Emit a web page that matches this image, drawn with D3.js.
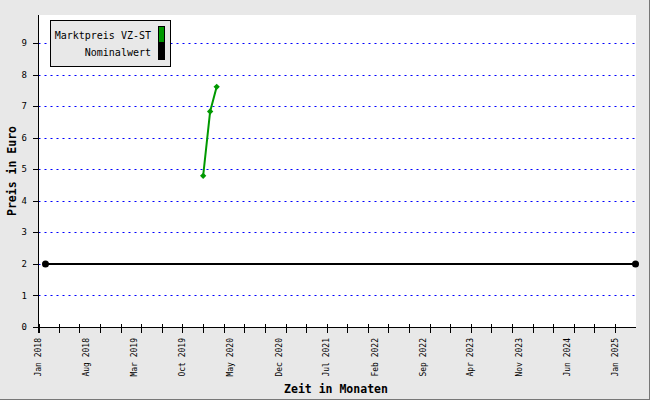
<!DOCTYPE html>
<html><head><meta charset="utf-8">
<script src="https://cdn.jsdelivr.net/npm/d3@7"></script>
<style>body{margin:0;background:#fff}svg{display:block}</style>
</head><body><svg id="c" width="650" height="400"></svg>
<script>
const marketDates = ["2020-01-01", "2020-02-01", "2020-03-01"];
const marketValues = [4.79, 6.83, 7.61];
const nominalDates = ["2018-02-01", "2025-04-01"];
const nominalValues = [2, 2];
const yTicks = [0, 1, 2, 3, 4, 5, 6, 7, 8, 9];
const xLabelDates = ["2018-01-01","2018-08-01","2019-03-01","2019-10-01","2020-05-01","2020-12-01","2021-07-01","2022-02-01","2022-09-01","2023-04-01","2023-11-01","2024-06-01","2025-01-01"];
const seriesNames = ["Marktpreis VZ-ST", "Nominalwert"];
const seriesColors = ["#009900", "#000000"];

(function () {
const parse = d3.utcParse("%Y-%m-%d");
const fmt = d3.utcFormat("%b %Y");
const svg = d3.select("#c");
const font = "'DejaVu Sans Mono', 'Liberation Mono', monospace";

svg.append("rect").attr("width", 650).attr("height", 400).attr("fill", "#e8e8e8");
svg.append("line").attr("x1", 649.5).attr("x2", 649.5).attr("y1", 0).attr("y2", 400).attr("stroke", "#777");
svg.append("line").attr("x1", 0).attr("x2", 650).attr("y1", 399.5).attr("y2", 399.5).attr("stroke", "#777");

const pL = 38.5, pR = 636, pT = 15, pB = 327;
svg.append("rect").attr("x", pL).attr("y", pT).attr("width", pR - pL).attr("height", pB - pT).attr("fill", "#fff");

const x = d3.scaleUtc().domain([parse("2018-01-01"), parse("2025-04-01")]).range([pL, pR - 0.5]);
const y = d3.scaleLinear().domain([0, 9]).range([pB, 43]);

// grid
svg.append("g").selectAll("line").data(yTicks.filter(d => d > 0)).join("line")
  .attr("x1", pL).attr("x2", pR)
  .attr("y1", d => Math.round(y(d)) + 0.5).attr("y2", d => Math.round(y(d)) + 0.5)
  .attr("stroke", "#0000ff").attr("stroke-width", 1).attr("stroke-dasharray", "2,4");

// y axis
const gy = svg.append("g");
gy.append("line").attr("x1", pL).attr("x2", pL).attr("y1", pT).attr("y2", pB + 6).attr("stroke", "#000");
gy.selectAll("line.t").data(yTicks).join("line").attr("class", "t")
  .attr("x1", 33).attr("x2", pL)
  .attr("y1", d => Math.round(y(d)) + 0.5).attr("y2", d => Math.round(y(d)) + 0.5).attr("stroke", "#000");
gy.selectAll("text").data(yTicks).join("text")
  .attr("x", 27).attr("y", d => y(d)).attr("dy", "0.35em")
  .attr("text-anchor", "end").attr("font-family", font).attr("font-size", 9).attr("fill", "#000")
  .text(d => d);

// x axis
const gx = svg.append("g");
gx.append("line").attr("x1", pL - 0.5).attr("x2", pR).attr("y1", pB + 0.5).attr("y2", pB + 0.5).attr("stroke", "#000").attr("stroke-width", 1.2);
const endDate = parse("2025-04-01");
const qTicks = x.ticks(d3.utcMonth.every(3)).filter(d => d < endDate);
gx.selectAll("line.t").data(qTicks).join("line").attr("class", "t")
  .attr("x1", d => Math.round(x(d)) + 0.5).attr("x2", d => Math.round(x(d)) + 0.5)
  .attr("y1", 324).attr("y2", 333).attr("stroke", "#000");
gx.selectAll("text").data(xLabelDates.map(parse)).join("text")
  .attr("transform", d => `translate(${x(d)},338) rotate(-90)`)
  .attr("dy", "0.35em").attr("text-anchor", "end")
  .attr("font-family", font).attr("font-size", 8).attr("fill", "#000")
  .text(d => fmt(d));

// axis titles
svg.append("text").attr("x", 336).attr("y", 393).attr("text-anchor", "middle")
  .attr("font-family", font).attr("font-weight", "bold").attr("font-size", 11.5).text("Zeit in Monaten");
svg.append("text").attr("transform", "translate(16,171) rotate(-90)").attr("text-anchor", "middle")
  .attr("font-family", font).attr("font-weight", "bold").attr("font-size", 11.5).text("Preis in Euro");

// nominal line
const nomData = nominalDates.map((d, i) => ({ d: parse(d), v: nominalValues[i] }));
const line = d3.line().x(p => x(p.d)).y(p => y(p.v));
svg.append("path").datum(nomData).attr("d", line).attr("fill", "none").attr("stroke", seriesColors[1]).attr("stroke-width", 2);
svg.append("g").selectAll("circle").data(nomData).join("circle")
  .attr("cx", p => x(p.d)).attr("cy", p => y(p.v)).attr("r", 3.5).attr("fill", seriesColors[1]);

// market line
const mData = marketDates.map((d, i) => ({ d: parse(d), v: marketValues[i] }));
svg.append("path").datum(mData).attr("d", line).attr("fill", "none").attr("stroke", seriesColors[0]).attr("stroke-width", 2);
svg.append("g").selectAll("path").data(mData).join("path")
  .attr("d", d3.symbol(d3.symbolSquare, 20))
  .attr("transform", p => `translate(${x(p.d)},${y(p.v)}) rotate(45)`)
  .attr("fill", seriesColors[0]);

// legend
const lg = svg.append("g");
lg.append("rect").attr("x", 50.5).attr("y", 20.5).attr("width", 120).attr("height", 46)
  .attr("fill", "#e8e8e8").attr("stroke", "#000");
seriesNames.forEach((n, i) => {
  const cy = 35 + i * 17;
  lg.append("text").attr("x", 151).attr("y", cy).attr("dy", "0.35em").attr("text-anchor", "end")
    .attr("font-family", font).attr("font-size", 10).attr("fill", "#000").text(n);
  lg.append("rect").attr("x", 158.5).attr("y", cy - 8.5).attr("width", 6).attr("height", 16)
    .attr("fill", seriesColors[i]).attr("stroke", "#000");
});
})();
</script></body></html>
